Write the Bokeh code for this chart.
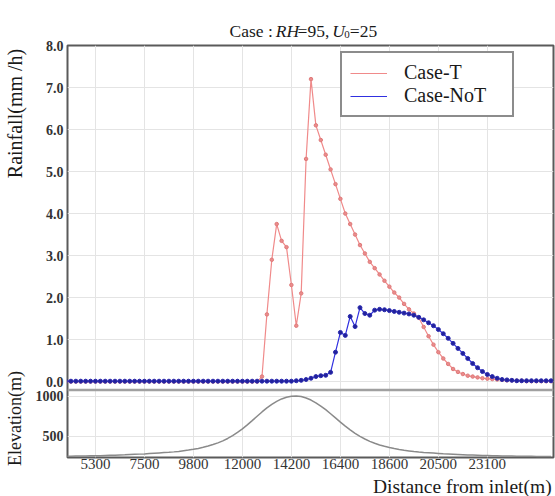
import math
from bokeh.plotting import figure
from bokeh.layouts import row, column
from bokeh.models import Range1d, FixedTicker, Span, Legend, LegendItem, PrintfTickFormatter
from bokeh.core.properties import value
from bokeh.embed import file_html
from bokeh.resources import INLINE

# ---------------- data ----------------
x_index = list(range(100))

rain_T = [0.0] * 40 + [
    0.12, 1.60, 2.90, 3.75, 3.35, 3.20, 2.30, 1.33, 2.10, 5.30,
    7.20, 6.10, 5.75, 5.40, 5.05, 4.70, 4.35, 4.00, 3.75, 3.50,
    3.25, 3.05, 2.85, 2.70, 2.55, 2.40, 2.26, 2.12, 2.00, 1.85,
    1.72, 1.62, 1.52, 1.30, 1.08, 0.88, 0.70, 0.55, 0.42, 0.30,
    0.23, 0.18, 0.14, 0.12, 0.10, 0.08, 0.07, 0.06, 0.05, 0.04,
    0.03, 0.03, 0.02, 0.02, 0.01, 0.01, 0.01, 0.01, 0.01, 0.01,
]

rain_NoT = [0.01] * 47 + [
    0.02, 0.03, 0.05, 0.08, 0.12, 0.14, 0.15, 0.22, 0.70, 1.17,
    1.10, 1.55, 1.31, 1.76, 1.62, 1.58, 1.70, 1.72, 1.71, 1.69,
    1.67, 1.65, 1.63, 1.61, 1.58, 1.53, 1.47, 1.40, 1.33, 1.24,
    1.14, 1.03, 0.91, 0.79, 0.67, 0.55, 0.43, 0.33, 0.24, 0.17,
    0.12, 0.08, 0.05, 0.04, 0.03, 0.02, 0.02, 0.02, 0.02, 0.02,
    0.02, 0.02, 0.02,
]

elevation = [
    251, 252, 253, 254, 255, 256, 257, 258, 260, 262,
    264, 266, 268, 271, 274, 277, 280, 284, 288, 292,
    296, 300, 305, 311, 319, 327, 337, 348, 362, 378,
    396, 417, 442, 472, 508, 548, 592, 641, 694, 748,
    802, 852, 896, 934, 964, 985, 997, 1000, 993, 976,
    950, 915, 875, 830, 780, 728, 676, 626, 579, 536,
    498, 465, 436, 412, 391, 374, 359, 346, 335, 325,
    317, 309, 303, 298, 294, 290, 286, 282, 279, 276,
    273, 270, 267, 265, 263, 261, 259, 257, 256, 255,
    254, 253, 252, 251, 250, 250, 249, 249, 248, 248,
]

x_tick_index = [6, 16, 26, 36, 46, 56, 66, 76, 86]
x_tick_labels = ["5300", "7500", "9800", "12000", "14200", "16400", "18600", "20500", "23100"]
rain_ticks = [0, 1, 2, 3, 4, 5, 6, 7, 8]
elev_ticks = [500, 1000]

title_parts = ["Case :", "RH", "=95,", "U", "0", "=25"]
y_label_rain = "Rainfall(mm /h)"
y_label_elev = "Elevation(m)"
x_label = "Distance from inlet(m)"

# ---------------- layout constants ----------------
W, H = 555, 496
STRIP_W = 30                  # left strip holding the y-axis titles
TITLE_H = 40                  # strip holding the chart title
MAIN_TOP = 5
FRAME_TOP = TITLE_H + MAIN_TOP
FRAME_H = 412
AXIS_H = 18                   # room for x tick labels
BOTTOM_H = H - TITLE_H - MAIN_TOP - FRAME_H - AXIS_H
MAIN_W = W - STRIP_W
MAIN_LEFT = 67 - STRIP_W
MAIN_RIGHT = 2

X0, X1 = 0.3, 99.5
RAIN_LO, RAIN_HI = -0.2, 8.0                # upper panel
ELEV_LO, ELEV_HI = 235.0, 1075.0            # lower panel
UPPER_FRAC = 344.5 / FRAME_H

r_start = RAIN_HI - (RAIN_HI - RAIN_LO) / UPPER_FRAC
e_end = ELEV_LO + (ELEV_HI - ELEV_LO) / (1 - UPPER_FRAC)


def elev_to_rain(e):
    return r_start + (e - ELEV_LO) / (e_end - ELEV_LO) * (RAIN_HI - r_start)


SERIF = "Liberation Serif"
INK = "#1a1a1a"


def blank(w, h):
    f = figure(width=w, height=h, x_range=Range1d(0, w), y_range=Range1d(0, h),
               output_backend="svg", toolbar_location=None,
               min_border=0, min_border_left=0, min_border_right=0,
               min_border_top=0, min_border_bottom=0)
    f.axis.visible = False
    f.grid.visible = False
    f.outline_line_color = None
    f.background_fill_color = "white"
    f.border_fill_color = "white"
    return f


# ---------------- main chart ----------------
p = figure(width=MAIN_W, height=MAIN_TOP + FRAME_H + AXIS_H, x_range=Range1d(X0, X1),
           y_range=Range1d(r_start, RAIN_HI),
           output_backend="svg", toolbar_location=None,
           min_border_left=MAIN_LEFT, min_border_right=MAIN_RIGHT,
           min_border_top=MAIN_TOP, min_border_bottom=AXIS_H)
p.extra_y_ranges = {"elev": Range1d(ELEV_LO, e_end)}
p.background_fill_color = "white"
p.border_fill_color = "white"
p.outline_line_color = "#5a5a5a"
p.outline_line_width = 2

elev_pos = [round(elev_to_rain(e), 6) for e in elev_ticks]
yax = p.yaxis[0]
yax.ticker = FixedTicker(ticks=rain_ticks + elev_pos)
yax.formatter = PrintfTickFormatter(format="%.1f")
yax.major_label_overrides = {pos: str(e) for pos, e in zip(elev_pos, elev_ticks)}
yax.axis_line_color = None
yax.major_tick_line_color = None
yax.minor_tick_line_color = None
yax.major_tick_out = 0
yax.major_label_standoff = 4
yax.major_label_text_font = SERIF
yax.major_label_text_font_size = "14px"
yax.major_label_text_font_style = "bold"
yax.major_label_text_color = "#333333"

xax = p.xaxis[0]
xax.ticker = FixedTicker(ticks=x_tick_index)
xax.major_label_overrides = {t: s for t, s in zip(x_tick_index, x_tick_labels)}
xax.axis_line_color = None
xax.major_tick_line_color = None
xax.minor_tick_line_color = None
xax.major_tick_out = 0
xax.major_label_standoff = 1
xax.major_label_text_font = SERIF
xax.major_label_text_font_size = "15px"
xax.major_label_text_color = "#333333"

p.xgrid.grid_line_color = "#e4e4e4"
p.ygrid.grid_line_color = "#e4e4e4"
p.xgrid.ticker = FixedTicker(ticks=x_tick_index)

p.add_layout(Span(location=RAIN_LO, dimension="width", line_color="#a0a0a0", line_width=2.5))

p.line(x_index, elevation, y_range_name="elev", line_color="#8a8a8a", line_width=1.5)

lt = p.line(x_index, rain_T, line_color="#f08a8a", line_width=1.2)
p.scatter(x_index, rain_T, size=3.5, marker="circle", fill_color="#ea8c8c", line_color="#e07a7a")
ln = p.line(x_index, rain_NoT, line_color="#3030e0", line_width=1.2)
p.scatter(x_index, rain_NoT, size=4, marker="circle", fill_color="#22229a", line_color="#2a2ab0")

legend = Legend(items=[LegendItem(label="Case-T", renderers=[lt]),
                       LegendItem(label="Case-NoT", renderers=[ln])],
                location=(340 - 67, FRAME_H - (117 - FRAME_TOP)),
                border_line_color=INK, border_line_width=2,
                background_fill_color="white", background_fill_alpha=1,
                padding=8, spacing=0, margin=0,
                glyph_width=37, glyph_height=20, label_height=20, label_width=100,
                label_standoff=17,
                label_text_font=SERIF, label_text_font_size="20px", label_text_color=INK)
p.add_layout(legend)

# ---------------- title strip ----------------
t = blank(MAIN_W, TITLE_H)
t_x = [205, 255, 278.5, 316, 329, 335]
t_cy = [30, 30, 30, 30, 33.5, 30]        # vertical centres, px from top of page
t_style = ["normal", "italic", "normal", "italic", "normal", "normal"]
t_size = ["17.5px", "17.5px", "17.5px", "17.5px", "11px", "17.5px"]
for xx, yy, txt, st, sz in zip(t_x, t_cy, title_parts, t_style, t_size):
    t.text(x=[xx - STRIP_W], y=[TITLE_H - yy], text=[txt], text_font=value(SERIF),
           text_font_style=st, text_font_size=value(sz), text_align="left",
           text_baseline="middle", text_color=INK)

# ---------------- bottom strip (x-axis title) ----------------
b = blank(MAIN_W, BOTTOM_H)
b.text(x=[MAIN_W - 2], y=[H - 485.5], text=[x_label],
       text_font=value(SERIF), text_font_size=value("19.5px"), text_align="right",
       text_baseline="middle", text_color=INK)

# ---------------- left strip (y-axis titles) ----------------
l = blank(STRIP_W, H)
l.text(x=[14, 14], y=[H - 113, H - 418], text=[y_label_rain, y_label_elev],
       angle=math.pi / 2, text_font=value(SERIF), text_font_size=["20px", "18px"],
       text_align="center", text_baseline="middle", text_color=INK)

layout = row(l, column(t, p, b, spacing=0), spacing=0)
open("out.html", "w").write(file_html(layout, INLINE))
